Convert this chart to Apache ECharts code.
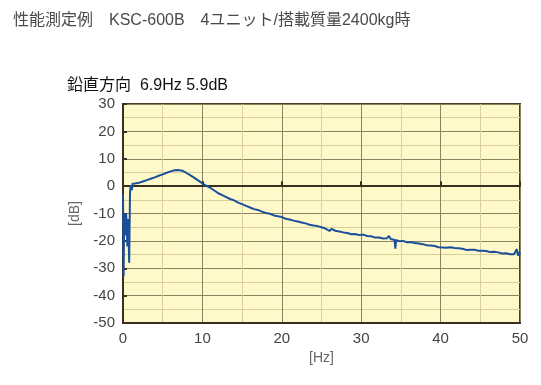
<!DOCTYPE html>
<html><head><meta charset="utf-8">
<script src="https://cdn.jsdelivr.net/npm/echarts@6/dist/echarts.min.js"></script>
<style>html,body{margin:0;padding:0;background:#fff}#c{width:541px;height:385px}</style>
</head><body><div id="c"></div>
<script>
var titleText = "性能測定例　KSC-600B　4ユニット/搭載質量2400kg時";
var subTitle = "鉛直方向  6.9Hz 5.9dB";
var xTicks = [0, 10, 20, 30, 40, 50];
var yTicks = [30, 20, 10, 0, -10, -20, -30, -40, -50];
var freq = [0.00,0.08,0.15,0.25,0.30,0.40,0.55,0.65,0.78,0.88,0.95,1.05,1.12,1.2,1.5,2.0,2.5,3.0,3.5,4.0,4.5,5.0,5.5,6.0,6.5,6.9,7.5,8.0,8.5,9.0,9.5,10.0,10.5,11.0,11.5,12.0,12.5,13.0,13.5,14.0,14.5,15.0,15.5,16.0,16.5,17.0,17.5,18.0,18.5,19.0,19.5,20.0,20.25,20.5,20.75,21.0,21.25,21.5,21.75,22.0,22.25,22.5,22.75,23.0,23.25,23.5,23.75,24.0,24.25,24.5,24.75,25.0,25.25,25.5,25.75,26.0,26.25,26.5,26.75,27.0,27.25,27.5,27.75,28.0,28.25,28.5,28.75,29.0,29.25,29.5,29.75,30.0,30.25,30.5,30.75,31.0,31.25,31.5,31.75,32.0,32.25,32.5,32.75,33.0,33.25,33.5,33.75,34.0,34.2,34.3,34.4,34.6,34.75,35.0,35.25,35.5,35.75,36.0,36.25,36.5,36.75,37.0,37.25,37.5,37.75,38.0,38.25,38.5,38.75,39.0,39.25,39.5,39.75,40.0,40.25,40.5,40.75,41.0,41.25,41.5,41.75,42.0,42.25,42.5,42.75,43.0,43.25,43.5,43.75,44.0,44.25,44.5,44.75,45.0,45.25,45.5,45.75,46.0,46.25,46.5,46.75,47.0,47.25,47.5,47.75,48.0,48.25,48.5,48.75,49.0,49.25,49.45,49.6,49.75,49.9,50.0];
var db = [-3,-33,-10,-10,-18,-10,-22,-12,-28,-3,0.3,0.8,-1.5,0.9,1.0,1.2,1.7,2.2,2.7,3.2,3.8,4.3,4.9,5.4,5.8,5.9,5.6,4.8,3.9,3.0,2.0,1.0,0.1,-0.6,-1.6,-2.6,-3.3,-4.0,-4.7,-5.2,-6.0,-6.6,-7.2,-7.8,-8.4,-8.7,-9.3,-9.8,-10.1,-10.7,-11.0,-11.3,-11.5,-11.9,-11.8,-12.2,-12.5,-12.6,-12.7,-12.9,-13.2,-13.3,-13.4,-13.6,-13.9,-14.1,-14.0,-14.4,-14.5,-14.6,-14.8,-15.0,-15.3,-15.5,-15.2,-16.4,-15.6,-15.8,-16.3,-16.8,-16.6,-17.0,-16.9,-17.4,-17.1,-17.2,-17.6,-17.8,-17.5,-17.6,-17.9,-17.9,-17.7,-17.3,-18.2,-18.6,-18.3,-18.5,-18.8,-19.0,-18.8,-19.2,-19.1,-19.3,-19.0,-18.2,-19.4,-19.8,-19.6,-22.8,-19.7,-19.9,-20.1,-20.2,-20.0,-20.3,-20.5,-20.6,-20.4,-20.9,-20.8,-21.1,-21.0,-21.3,-21.2,-21.4,-21.6,-21.9,-21.7,-22.0,-21.9,-22.2,-22.3,-22.5,-22.4,-22.7,-22.5,-22.6,-22.3,-21.9,-22.6,-22.9,-22.7,-23.1,-22.9,-23.0,-23.3,-23.4,-23.2,-23.5,-23.2,-23.3,-23.6,-23.8,-23.6,-24.0,-23.7,-23.9,-24.1,-24.2,-24.0,-24.4,-24.2,-24.4,-24.6,-24.8,-24.5,-24.6,-24.9,-25.1,-24.9,-25.3,-23.0,-25.4,-24.2,-25.0];

var data = freq.map(function(f, i){ return [f, db[i]]; });
var chart = echarts.init(document.getElementById('c'), null, {renderer:'canvas'});
var font = "'Liberation Sans','Noto Sans CJK JP',sans-serif";
chart.setOption({
  animation:false,
  backgroundColor:'#ffffff',
  title:[
    {text:titleText, left:8, top:8, textStyle:{fontFamily:font, fontSize:16, fontWeight:'normal', color:'#4a4a4a'}},
    {text:subTitle, left:62, top:73, textStyle:{fontFamily:font, fontSize:16, fontWeight:'normal', color:'#111'}}
  ],
  grid:{left:123, top:104, right:21, bottom:62, show:true, backgroundColor:'#fff9c9', borderColor:'#4a3c28', borderWidth:2},
  xAxis:[{
    type:'value', min:xTicks[0], max:xTicks[xTicks.length-1], interval:10,
    name:'[Hz]', nameLocation:'middle', nameGap:22,
    nameTextStyle:{fontFamily:font, fontSize:14, color:'#666'},
    axisLine:{show:true, onZero:false, lineStyle:{color:'#3a2e1e', width:2}},
    axisTick:{show:false},
    axisLabel:{fontFamily:font, fontSize:15, color:'#444', margin:8},
    splitLine:{show:true, lineStyle:{color:'#8c8262', width:1}},
    minorTick:{show:false, splitNumber:2},
    minorSplitLine:{show:true, lineStyle:{color:'#d9cf98', width:1}}
  },{
    type:'value', min:0, max:50, interval:10, position:'bottom',
    axisLine:{show:true, onZero:true, lineStyle:{color:'#3a2e1e', width:2}},
    axisTick:{show:true, inside:true, length:5, lineStyle:{color:'#3a2e1e', width:2}},
    axisLabel:{show:false}, splitLine:{show:false}
  }],
  yAxis:{
    type:'value', min:yTicks[yTicks.length-1], max:yTicks[0], interval:10,
    name:'[dB]', nameLocation:'middle', nameGap:40, nameRotate:90,
    nameTextStyle:{fontFamily:font, fontSize:14, color:'#666'},
    axisLine:{show:true, lineStyle:{color:'#3a2e1e', width:2}},
    axisTick:{show:true, inside:true, length:4, lineStyle:{color:'#3a2e1e', width:2}},
    axisLabel:{fontFamily:font, fontSize:15, color:'#444', margin:8},
    splitLine:{show:true, lineStyle:{color:'#8c8262', width:1}},
    minorTick:{show:false, splitNumber:2},
    minorSplitLine:{show:true, lineStyle:{color:'#d9cf98', width:1}}
  },
  series:[{
    type:'line', data:data, showSymbol:false, symbol:'none', xAxisIndex:0,
    lineStyle:{color:'#1b4f9c', width:2}, z:5
  }]
});
</script></body></html>
